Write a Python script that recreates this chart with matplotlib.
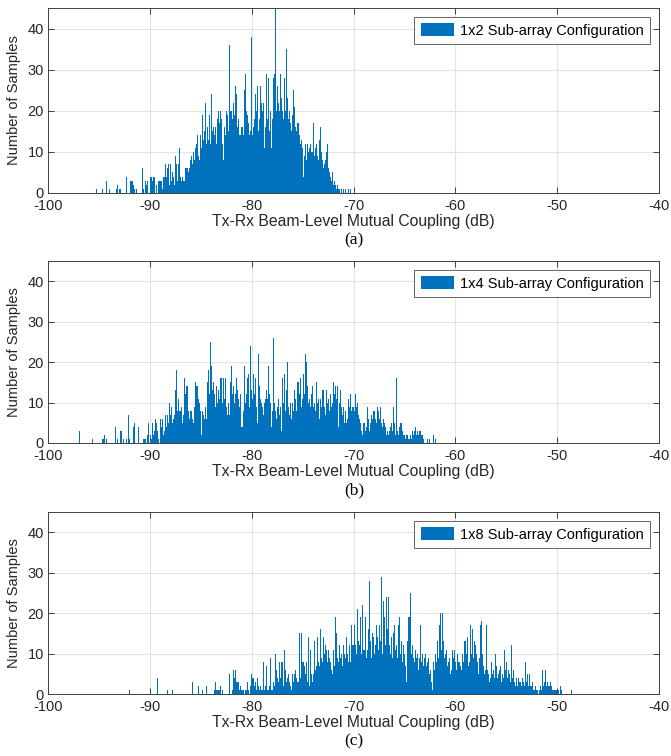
import numpy as np
import matplotlib
matplotlib.use("Agg")
import matplotlib.pyplot as plt

plt.rcParams["font.family"] = ["Liberation Sans", "DejaVu Sans"]
plt.rcParams["axes.unicode_minus"] = False

# histogram counts, 0.1 dB bins, each row = 1 dB starting at the given edge
bin_width = 0.1

start_1x2 = -96.0
counts_1x2 = [
    0, 0, 0, 0, 0, 0, 0, 1, 0, 0,
    0, 0, 0, 1, 0, 0, 0, 3, 0, 0,
    1, 0, 0, 0, 0, 0, 0, 1, 2, 0,
    1, 1, 0, 0, 0, 0, 0, 4, 0, 0,
    0, 3, 3, 2, 1, 0, 1, 0, 0, 0,
    0, 0, 6, 1, 0, 3, 2, 3, 0, 0,
    4, 4, 3, 4, 4, 0, 2, 0, 3, 3,
    3, 3, 1, 4, 4, 7, 4, 6, 7, 2,
    7, 3, 5, 4, 2, 9, 7, 3, 7, 11,
    4, 3, 4, 3, 3, 6, 6, 5, 6, 8,
    9, 7, 10, 8, 11, 12, 14, 9, 8, 14,
    11, 19, 13, 15, 22, 12, 16, 13, 19, 12,
    24, 15, 16, 14, 16, 12, 18, 20, 17, 20,
    18, 12, 8, 16, 14, 20, 19, 15, 36, 20,
    20, 18, 22, 19, 26, 24, 16, 18, 14, 14,
    16, 14, 25, 29, 20, 19, 17, 14, 15, 38,
    14, 16, 18, 24, 20, 26, 15, 18, 26, 22,
    20, 22, 11, 16, 29, 18, 28, 15, 20, 11,
    18, 28, 29, 45, 20, 26, 22, 20, 29, 23,
    20, 18, 28, 20, 35, 23, 18, 20, 17, 15,
    19, 25, 21, 16, 15, 17, 14, 12, 13, 11,
    4, 9, 12, 8, 12, 10, 11, 12, 10, 10,
    17, 9, 11, 12, 9, 8, 13, 16, 10, 8,
    6, 7, 8, 10, 12, 6, 5, 4, 3, 5,
    2, 3, 2, 1, 2, 1, 1, 0, 1, 0,
    1, 0, 1, 0, 0, 1, 0, 1, 0, 0,
]

start_1x4 = -97.0
counts_1x4 = [
    3, 0, 0, 0, 0, 0, 0, 0, 0, 0,
    0, 0, 0, 1, 0, 0, 0, 0, 0, 0,
    0, 0, 0, 1, 1, 2, 0, 1, 0, 0,
    0, 0, 0, 0, 0, 0, 4, 0, 1, 0,
    0, 3, 3, 0, 1, 0, 0, 1, 0, 7,
    1, 0, 0, 4, 5, 0, 0, 0, 4, 0,
    0, 0, 0, 1, 1, 1, 0, 2, 5, 0,
    2, 1, 5, 2, 3, 6, 5, 3, 1, 0,
    6, 4, 6, 2, 3, 7, 4, 7, 5, 10,
    7, 9, 5, 6, 7, 13, 18, 8, 11, 8,
    8, 9, 5, 7, 16, 12, 14, 8, 6, 8,
    8, 6, 5, 9, 15, 14, 14, 11, 10, 8,
    2, 8, 7, 6, 9, 6, 15, 18, 12, 25,
    19, 13, 15, 12, 9, 14, 10, 13, 11, 16,
    16, 10, 16, 11, 16, 9, 7, 10, 7, 15,
    19, 12, 14, 10, 12, 16, 13, 11, 9, 12,
    4, 8, 19, 10, 12, 16, 17, 9, 24, 13,
    11, 17, 12, 16, 9, 5, 22, 14, 11, 10,
    9, 7, 10, 11, 13, 11, 19, 12, 10, 4,
    8, 26, 10, 8, 6, 9, 11, 7, 9, 3,
    16, 10, 17, 8, 13, 20, 9, 7, 10, 6,
    10, 8, 13, 11, 8, 15, 12, 16, 9, 11,
    17, 12, 22, 20, 14, 10, 11, 9, 12, 14,
    9, 10, 8, 15, 10, 11, 6, 11, 9, 13,
    13, 9, 7, 13, 10, 11, 8, 12, 9, 10,
    15, 12, 14, 11, 14, 4, 10, 13, 9, 7,
    9, 5, 8, 5, 6, 11, 9, 12, 8, 9,
    8, 12, 9, 10, 7, 6, 5, 3, 2, 5,
    5, 3, 4, 9, 6, 3, 5, 7, 6, 8,
    8, 6, 5, 9, 8, 6, 9, 5, 4, 6,
    5, 4, 2, 3, 2, 3, 4, 5, 3, 9,
    5, 2, 16, 3, 2, 4, 5, 5, 3, 2,
    2, 1, 2, 2, 1, 2, 1, 3, 2, 3,
    4, 2, 3, 2, 3, 3, 2, 2, 1, 0,
    0, 0, 1, 0, 1, 0, 0, 0, 2, 0,
    1, 0, 0, 0, 0, 0, 0, 0, 0, 0,
]

start_1x8 = -92.0
counts_1x8 = [
    1, 0, 0, 0, 0, 0, 0, 0, 0, 0,
    0, 0, 0, 0, 0, 0, 0, 0, 0, 0,
    0, 0, 0, 0, 0, 0, 0, 4, 0, 0,
    0, 0, 0, 0, 0, 0, 0, 1, 0, 0,
    0, 0, 1, 0, 0, 0, 0, 0, 0, 0,
    0, 0, 0, 0, 0, 0, 0, 0, 0, 0,
    0, 3, 0, 0, 0, 0, 0, 2, 0, 0,
    0, 1, 0, 0, 0, 2, 0, 0, 0, 0,
    0, 0, 0, 1, 3, 1, 1, 1, 1, 2,
    0, 1, 0, 0, 0, 0, 0, 0, 5, 0,
    0, 1, 6, 4, 6, 3, 3, 3, 1, 2,
    1, 1, 0, 1, 1, 3, 1, 0, 2, 5,
    4, 4, 2, 3, 1, 4, 2, 1, 2, 1,
    1, 8, 1, 2, 7, 1, 1, 2, 9, 1,
    1, 3, 2, 10, 6, 4, 3, 8, 4, 8,
    8, 2, 11, 6, 3, 4, 5, 3, 2, 1,
    5, 3, 5, 6, 4, 3, 15, 4, 15, 8,
    8, 7, 5, 8, 3, 14, 2, 11, 5, 3,
    5, 13, 6, 7, 14, 8, 7, 16, 9, 8,
    14, 10, 12, 11, 8, 11, 9, 8, 6, 5,
    11, 7, 19, 15, 9, 8, 12, 9, 10, 7,
    12, 10, 9, 14, 10, 8, 12, 8, 17, 12,
    17, 12, 10, 21, 13, 12, 19, 10, 22, 11,
    11, 19, 9, 11, 16, 28, 13, 9, 15, 14,
    10, 12, 17, 14, 11, 17, 13, 29, 10, 23,
    19, 12, 24, 16, 24, 12, 10, 14, 9, 15,
    17, 11, 12, 9, 17, 19, 10, 13, 8, 12,
    10, 7, 3, 13, 19, 25, 10, 12, 9, 8,
    11, 9, 10, 6, 9, 17, 8, 10, 7, 9,
    10, 7, 8, 9, 5, 6, 3, 1, 8, 6,
    10, 8, 13, 9, 17, 20, 11, 20, 13, 9,
    10, 11, 7, 8, 9, 5, 6, 11, 9, 11,
    8, 6, 10, 8, 8, 7, 6, 10, 8, 13,
    10, 14, 7, 8, 17, 10, 16, 9, 13, 12,
    10, 8, 5, 9, 17, 18, 10, 7, 5, 6,
    17, 6, 5, 3, 4, 8, 5, 6, 4, 10,
    7, 4, 5, 6, 7, 3, 5, 4, 11, 6,
    8, 4, 6, 5, 3, 12, 4, 6, 3, 2,
    4, 2, 4, 3, 2, 4, 3, 2, 8, 3,
    5, 2, 5, 2, 2, 3, 1, 1, 2, 1,
    1, 0, 1, 2, 1, 6, 2, 3, 6, 2,
    3, 2, 2, 3, 2, 1, 1, 1, 1, 1,
    0, 1, 0, 2, 1, 0, 0, 0, 0, 0,
    0, 0, 0, 0, 1, 0, 0, 0, 0, 0,
]

panels = [
    ("1x2 Sub-array Configuration", start_1x2, counts_1x2, "(a)"),
    ("1x4 Sub-array Configuration", start_1x4, counts_1x4, "(b)"),
    ("1x8 Sub-array Configuration", start_1x8, counts_1x8, "(c)"),
]

bar_color = "#0072BD"
axis_color = "#404040"

fig = plt.figure(figsize=(6.71, 7.56), dpi=100)
W, H = 671, 756
boxes = [(8, 193), (261, 443), (512, 694)]

for (label, start, counts, tag), (top, bot) in zip(panels, boxes):
    ax = fig.add_axes([48 / W, 1 - bot / H, 611 / W, (bot - top) / H])
    counts = np.array(counts)
    edges = start + bin_width * np.arange(len(counts))
    ax.bar(edges, counts, width=bin_width, align="edge", color=bar_color,
           linewidth=0, label=label, zorder=2)
    ax.set_xlim(-100, -40)
    ax.set_ylim(0, 45)
    ax.set_xticks(np.arange(-100, -39, 10))
    ax.set_yticks([0, 10, 20, 30, 40])
    ax.grid(True, color="#e3e3e3", linewidth=0.8, zorder=0)
    ax.set_axisbelow(True)
    for s in ax.spines.values():
        s.set_color(axis_color)
        s.set_linewidth(0.7)
    ax.tick_params(direction="in", top=True, right=True, length=4,
                   width=0.7, color=axis_color, labelsize=10.5, pad=3,
                   labelcolor="#262626")
    ax.tick_params(axis="x", pad=4)
    ax.set_xlabel("Tx-Rx Beam-Level Mutual Coupling (dB)", fontsize=11.3,
                  color="#262626", labelpad=1)
    ax.set_ylabel("Number of Samples", fontsize=10.5, color="#262626",
                  labelpad=5)
    leg = ax.legend(loc="upper right", fontsize=10.5, fancybox=False,
                    framealpha=1, edgecolor="#666666", handlelength=2.3,
                    handleheight=1.0, borderpad=0.45, handletextpad=0.4,
                    borderaxespad=0.6)
    leg.get_frame().set_linewidth(0.7)
    fig.text(354 / W, 1 - (bot + 47) / H, tag, ha="center", va="center",
             fontsize=12.5, family="Liberation Serif")

fig.savefig("out.png", dpi=100)
